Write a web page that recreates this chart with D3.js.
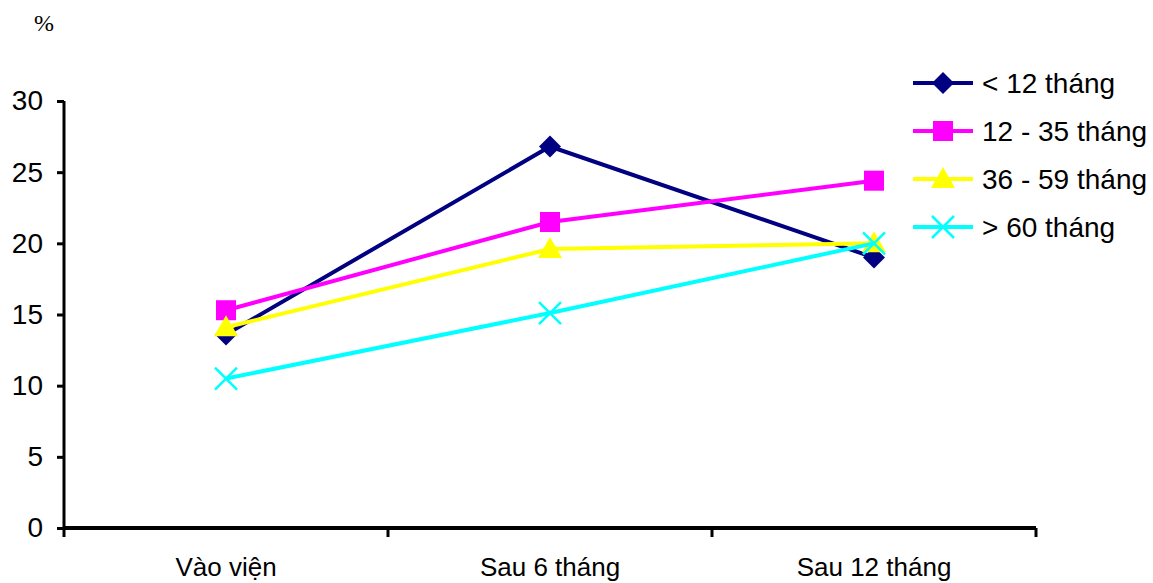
<!DOCTYPE html>
<html><head><meta charset="utf-8">
<script src="https://cdn.jsdelivr.net/npm/d3@7"></script>
<style>body{margin:0;background:#fff}svg{display:block}</style>
</head><body>
<svg id="c" width="1153" height="583"></svg>
<script>
const categories = ["Vào viện", "Sau 6 tháng", "Sau 12 tháng"];
const seriesNames = ["< 12 tháng", "12 - 35 tháng", "36 - 59 tháng", "> 60 tháng"];
const s1 = [13.6, 26.8, 19.0];
const s2 = [15.3, 21.5, 24.4];
const s3 = [14.1, 19.6, 20.0];
const s4 = [10.5, 15.1, 20.0];
const yTicks = [0, 5, 10, 15, 20, 25, 30];
const colors = ["#000080", "#FF00FF", "#FFFF00", "#00FFFF"];
const symbols = ["diamond", "square", "triangle", "cross"];
const seriesValues = [s1, s2, s3, s4];

const svg = d3.select("#c");
const x = d3.scaleBand().domain(categories).range([64, 1036]);
const y = d3.scaleLinear().domain([0, 30]).range([528, 101]);

// y axis
const ya = svg.append("g").attr("transform", "translate(64,0)")
  .call(d3.axisLeft(y).tickValues(yTicks).tickSize(7).tickPadding(14));
ya.attr("font-family", null).attr("font-size", null);
ya.select(".domain").attr("stroke", "#000").attr("stroke-width", 3).attr("d", "M0,101V528");
ya.selectAll(".tick line").attr("stroke", "#000").attr("stroke-width", 3);
ya.selectAll("text").style("font-family", "'Liberation Sans', Arial, sans-serif").style("font-size", "28px").attr("fill", "#000");

// x axis
const xa = svg.append("g").attr("transform", "translate(0,528)")
  .call(d3.axisBottom(x).tickSize(0).tickPadding(30));
xa.attr("font-family", null).attr("font-size", null);
xa.select(".domain").attr("stroke", "#000").attr("stroke-width", 4).attr("d", "M64,0H1036");
xa.selectAll("text").style("font-family", "'Liberation Sans', Arial, sans-serif").style("font-size", "26px").attr("fill", "#000");
const edges = [64, ...categories.map(c => x(c) + x.bandwidth())];
svg.append("g").selectAll("line").data(edges).join("line")
  .attr("x1", d => d).attr("x2", d => d).attr("y1", 528).attr("y2", 537)
  .attr("stroke", "#000").attr("stroke-width", 3);

svg.append("text").attr("x", 44).attr("y", 31).attr("text-anchor", "middle")
  .style("font-family", "'Liberation Serif', 'Times New Roman', serif").style("font-size", "24px").text("%");

function drawMarker(g, type, color, cx, cy) {
  if (type === "diamond") {
    g.append("path").attr("d", `M${cx},${cy-11}L${cx+11},${cy}L${cx},${cy+11}L${cx-11},${cy}Z`).attr("fill", color);
  } else if (type === "square") {
    g.append("rect").attr("x", cx-10).attr("y", cy-10).attr("width", 20).attr("height", 20).attr("fill", color);
  } else if (type === "triangle") {
    g.append("path").attr("d", `M${cx},${cy-12}L${cx+12},${cy+9}L${cx-12},${cy+9}Z`).attr("fill", color);
  } else {
    g.append("path").attr("d", `M${cx-11},${cy-11}L${cx+11},${cy+11}M${cx+11},${cy-11}L${cx-11},${cy+11}`)
      .attr("stroke", color).attr("stroke-width", 2.5);
  }
}

const line = d3.line().x((d, i) => x(categories[i]) + x.bandwidth() / 2).y(d => y(d));
seriesValues.forEach((vals, k) => {
  const g = svg.append("g");
  g.append("path").attr("d", line(vals)).attr("fill", "none").attr("stroke", colors[k]).attr("stroke-width", 4);
  vals.forEach((v, i) => drawMarker(g, symbols[k], colors[k], x(categories[i]) + x.bandwidth() / 2, y(v)));
});

// legend
const legend = svg.append("g");
seriesNames.forEach((name, k) => {
  const ly = 83 + k * 48;
  const g = legend.append("g");
  g.append("line").attr("x1", 913).attr("x2", 973).attr("y1", ly).attr("y2", ly).attr("stroke", colors[k]).attr("stroke-width", 4);
  drawMarker(g, symbols[k], colors[k], 943, ly);
  g.append("text").attr("x", 982).attr("y", ly + 10).style("font-family", "'Liberation Sans', Arial, sans-serif")
    .style("font-size", "28px").attr("fill", "#000").text(name);
});
</script>
</body></html>
